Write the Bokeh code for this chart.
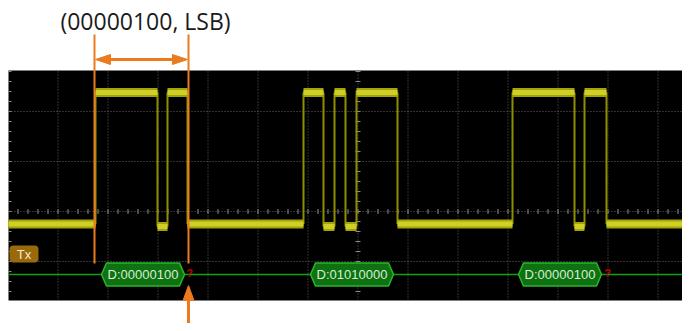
import numpy as np
from bokeh.plotting import figure
from bokeh.core.properties import value
from bokeh.embed import file_html
from bokeh.resources import INLINE

# ---------------- data (time / voltage in screen divisions) ----------------
packet_edges = [
    [-5.25, -4.01, -3.81, -3.41],
    [-1.09, -0.69, -0.47, -0.25, -0.03, 0.79],
    [3.09, 4.33, 4.53, 4.97],
]
level_high = 2.38
level_idle = -0.25
level_dip = -0.30

decode_labels = ["D:00000100", "D:01010000", "D:00000100"]
decode_start = [-5.13, -0.95, 3.21]
decode_end = [-3.47, 0.71, 4.87]
error_marks = [-3.37, 4.99]
bus_level = -1.26
channel_label = "Tx"
annotation_text = "(00000100, LSB)"
frame_marks = [-5.27, -3.39]

# ---------------- layout helpers (picture pixel -> divisions) ----------------
def xd(px):
    return (px - 357.5) / 50.0

def yd(py):
    return (211.0 - py) / 50.0

W, H = 682, 323
X_LO, X_HI = xd(0), xd(W)
Y_HI, Y_LO = yd(0), yd(H)
S_LEFT = xd(8)
S_TOP, S_BOT = yd(70), yd(300)

ORANGE = "#EC7A1E"
GRID = "#626262"

p = figure(width=W, height=H, x_range=(X_LO, X_HI), y_range=(Y_LO, Y_HI),
           output_backend="svg", toolbar_location=None, min_border=0,
           background_fill_color="white", border_fill_color="white",
           outline_line_color=None)
p.axis.visible = False
p.xgrid.visible = False
p.ygrid.visible = False

# screen
p.quad(left=[S_LEFT], right=[X_HI], top=[S_TOP], bottom=[S_BOT],
       fill_color="#000000", line_color=None)

# graticule
gx = [k for k in range(-6, 7) if k != 0]
p.segment(x0=gx, y0=[S_BOT] * len(gx), x1=gx, y1=[S_TOP] * len(gx),
          line_color=GRID, line_width=1, line_dash="1 2")
gy = [2, 1, -1]
p.segment(x0=[S_LEFT] * len(gy), y0=gy, x1=[X_HI] * len(gy), y1=gy,
          line_color=GRID, line_width=1, line_dash="1 2")
# centre axes
p.segment(x0=[S_LEFT], y0=[0], x1=[X_HI], y1=[0], line_color=GRID, line_width=1, line_dash="1 2")
p.segment(x0=[0], y0=[S_BOT], x1=[0], y1=[S_TOP], line_color=GRID, line_width=1, line_dash="1 2")
tx = np.arange(-34, 34) * 0.2
tx = tx[(tx > S_LEFT) & (tx < X_HI)]
p.segment(x0=tx, y0=-0.05, x1=tx, y1=0.05, line_color="#8a8a8a", line_width=1)
ty = np.arange(-8, 15) * 0.2
ty = ty[(ty > S_BOT) & (ty < S_TOP)]
p.segment(x0=-0.05, y0=ty, x1=0.05, y1=ty, line_color="#8a8a8a", line_width=1)
p.segment(x0=S_LEFT, y0=ty, x1=S_LEFT + 0.06, y1=ty, line_color="#8a8a8a", line_width=1)

# ---------------- waveform ----------------
hx0, hx1, hy = [], [], []
vx, vy0, vy1 = [], [], []
prev = S_LEFT
for edges in packet_edges:
    hx0.append(prev); hx1.append(edges[0]); hy.append(level_idle)
    for i in range(len(edges) - 1):
        hx0.append(edges[i]); hx1.append(edges[i + 1])
        hy.append(level_high if i % 2 == 0 else level_dip)
    for i, e in enumerate(edges):
        low = level_idle if (i == 0 or i == len(edges) - 1) else level_dip
        vx.append(e); vy0.append(low); vy1.append(level_high)
    prev = edges[-1]
hx0.append(prev); hx1.append(X_HI); hy.append(level_idle)

p.segment(x0=vx, y0=vy0, x1=vx, y1=vy1, line_color="#8E8E00", line_width=2)
p.segment(x0=hx0, y0=hy, x1=hx1, y1=hy, line_color="#A3A30C", line_width=9)
p.segment(x0=hx0, y0=hy, x1=hx1, y1=hy, line_color="#CFCF26", line_width=5)

# ---------------- decode bus ----------------
p.segment(x0=[S_LEFT], y0=[bus_level], x1=[X_HI], y1=[bus_level],
          line_color="#12A012", line_width=1.5)
pt, hh = 0.1, 0.23
bxs, bys = [], []
for a, b in zip(decode_start, decode_end):
    bxs.append([a, a + pt, b - pt, b, b - pt, a + pt])
    bys.append([bus_level, bus_level + hh, bus_level + hh, bus_level,
                bus_level - hh, bus_level - hh])
p.patches(xs=bxs, ys=bys, fill_color="#0D720F", line_color="#2DB52D", line_width=1.5)
p.text(x=[(a + b) / 2 for a, b in zip(decode_start, decode_end)], y=[bus_level] * 3,
       text=decode_labels, text_align="center", text_baseline="middle",
       text_font=value("Liberation Sans"), text_font_size="13px", text_color="#D8ECD8")
p.text(x=error_marks, y=[bus_level + 0.04] * len(error_marks), text=["?"] * len(error_marks),
       text_align="center", text_baseline="middle", text_font=value("Liberation Sans"),
       text_font_size="11px", text_font_style="bold", text_color="#C00000")

# channel tag
p.quad(left=[xd(9)], right=[xd(38)], top=[yd(245)], bottom=[yd(262)],
       fill_color="#9A6A0A", line_color=None, border_radius=4)
p.text(x=[xd(23.5)], y=[yd(253.5)], text=[channel_label], text_align="center",
       text_baseline="middle", text_font=value("Liberation Sans"), text_font_size="13px",
       text_color="#F2EAD8")

# ---------------- orange annotation ----------------
p.segment(x0=frame_marks, y0=[yd(34)] * 2, x1=frame_marks, y1=[yd(263)] * 2,
          line_color=ORANGE, line_width=2)
ay = yd(59)
hl, hw = 0.30, 0.10
lt, rt = frame_marks[0] + 0.02, frame_marks[1] - 0.02
p.segment(x0=[lt + hl - 0.02], y0=[ay], x1=[rt - hl + 0.02], y1=[ay], line_color=ORANGE, line_width=3)
p.patches(xs=[[lt, lt + hl, lt + hl], [rt, rt - hl, rt - hl]],
          ys=[[ay, ay + hw, ay - hw], [ay, ay + hw, ay - hw]],
          fill_color=ORANGE, line_color=ORANGE, line_width=1)
# bottom arrow
bx = frame_marks[1]
tip, base = yd(285), yd(300)
p.segment(x0=[bx], y0=[base + 0.02], x1=[bx], y1=[Y_LO], line_color=ORANGE, line_width=3)
p.patches(xs=[[bx, bx - 0.11, bx + 0.11]], ys=[[tip, base, base]],
          fill_color=ORANGE, line_color=ORANGE, line_width=1)

p.text(x=[xd(145)], y=[yd(20.5)], text=[annotation_text], text_align="center",
       text_baseline="middle", text_font=value("Open Sans"), text_font_size="23px",
       text_color="#1A1A1A")

open("out.html", "w").write(file_html(p, INLINE))
